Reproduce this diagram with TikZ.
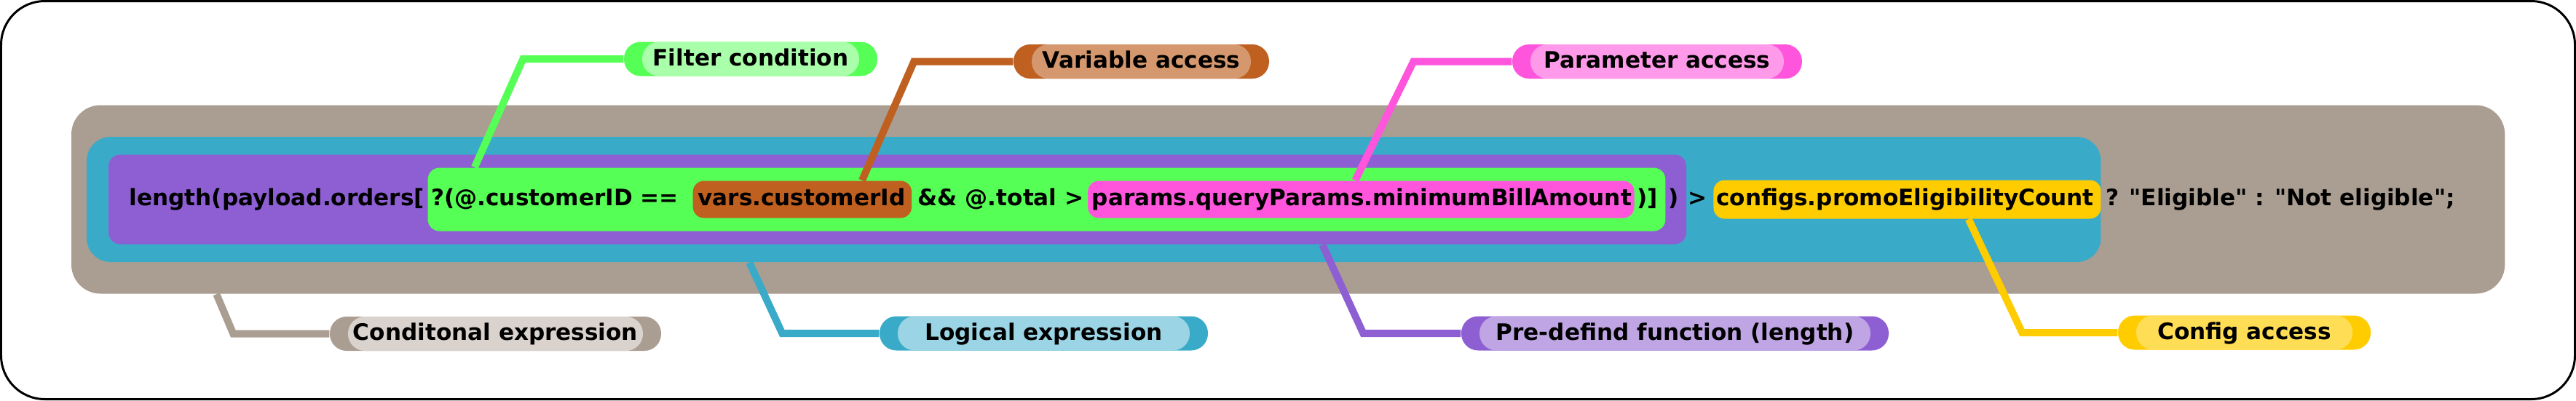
\documentclass[tikz,border=0pt]{standalone}
\usepackage{fontspec}
\setmainfont{DejaVu Sans}
\usetikzlibrary{positioning, fit, backgrounds}
\definecolor{tannode}{RGB}{170,157,145}
\definecolor{bluenode}{RGB}{57,171,200}
\definecolor{purplenode}{RGB}{141,95,211}
\definecolor{greennode}{RGB}{85,255,85}
\definecolor{brownnode}{RGB}{191,96,32}
\definecolor{pinknode}{RGB}{255,85,221}
\definecolor{yellownode}{RGB}{255,204,0}
\definecolor{lighttan}{RGB}{217,210,205}
\definecolor{lightblue}{RGB}{155,212,228}
\definecolor{lightpurple}{RGB}{192,165,229}
\definecolor{lightgreen}{RGB}{170,255,170}
\definecolor{lightbrown}{RGB}{213,152,110}
\definecolor{lightpink}{RGB}{255,153,234}
\definecolor{lightyellow}{RGB}{255,221,85}
\tikzset{
  code/.style={anchor=base west, inner sep=0pt,
    text height=0.24cm, text depth=0.08cm},
  hl/.style={inner xsep=0pt},
  pill/.style 2 args={
    rectangle, rounded corners=0.23cm, minimum height=0.47cm,
    inner xsep=0pt, inner ysep=0pt, text height=0.25cm, text depth=0.07cm,
    fill=#1,
    path picture={\fill[#2]
      ([xshift=0.25cm]path picture bounding box.south west) rectangle
      ([xshift=-0.25cm]path picture bounding box.north east);}
  },
  link/.style={line width=0.1cm, draw=#1}
}

\begin{document}
\begin{tikzpicture}[font=\bfseries\fontsize{8.85pt}{10pt}\selectfont]

  \useasboundingbox (0,0) rectangle (35.38,-5.5);
  \draw[line width=0.03cm, rounded corners=0.6cm]
    (0.015,-0.015) rectangle (35.365,-5.485);

  % expression
  \node[code] (t1) at (1.77,-2.82) {length(payload.orders[};
  \node[code] (t2) at ([xshift=0.08cm]t1.base east) {?(@.customerID ==};
  \node[code] (t3) at ([xshift=0.25cm]t2.base east) {vars.customerId};
  \node[code] (t4) at ([xshift=0.16cm]t3.base east) {\&\& @.total >};
  \node[code] (t5) at ([xshift=0.10cm]t4.base east) {params.queryParams.minimumBillAmount};
  \node[code] (t6) at ([xshift=0.06cm]t5.base east) {)]};
  \node[code] (t7) at ([xshift=0.13cm]t6.base east) {)};
  \node[code] (t8) at ([xshift=0.12cm]t7.base east) {>};
  \node[code] (t9) at ([xshift=0.11cm]t8.base east) {configs.promoEligibilityCount};
  \node[code] (t10) at ([xshift=0.15cm]t9.base east)
        {? \textquotedbl Eligible\textquotedbl\ : \textquotedbl Not eligible\textquotedbl;};

  % labels
  \node[pill={greennode}{lightgreen}, minimum width=3.48cm] (lflt)
        at (10.31,-0.81) {Filter condition};
  \node[pill={brownnode}{lightbrown}, minimum width=3.51cm] (lvar)
        at (15.675,-0.845) {Variable access};
  \node[pill={pinknode}{lightpink}, minimum width=3.98cm] (lpar)
        at (22.76,-0.845) {Parameter access};
  \node[pill={tannode}{lighttan}, minimum width=4.55cm] (lcond)
        at (6.805,-4.585) {Conditonal expression};
  \node[pill={bluenode}{lightblue}, minimum width=4.51cm] (llog)
        at (14.335,-4.58) {Logical expression};
  \node[pill={purplenode}{lightpurple}, minimum width=5.87cm] (lfun)
        at (23.005,-4.58) {Pre-defind function (length)};
  \node[pill={yellownode}{lightyellow}, minimum width=3.47cm] (lcfg)
        at (30.825,-4.57) {Config access};

  \begin{scope}[on background layer]
    \node[hl, fill=tannode, rounded corners=0.4cm, inner ysep=1.295cm,
          fit={([xshift=-0.79cm]t1.west) ([xshift=0.68cm]t10.east)}] (cond) {};
    \node[hl, fill=bluenode, rounded corners=0.33cm, inner ysep=0.86cm,
          fit={([xshift=-0.58cm]t1.west) ([xshift=0.09cm]t9.east)}] (log) {};
    \node[hl, fill=purplenode, rounded corners=0.16cm, inner ysep=0.615cm,
          fit={([xshift=-0.28cm]t1.west) ([xshift=0.1cm]t7.east)}] (fun) {};
    \node[hl, fill=greennode, rounded corners=0.16cm, inner ysep=0.435cm,
          fit={([xshift=-0.04cm]t2.west) ([xshift=0.1cm]t6.east)}] (flt) {};
    \node[hl, fill=brownnode, rounded corners=0.15cm, inner ysep=0.255cm,
          fit={([xshift=-0.06cm]t3.west) ([xshift=0.08cm]t3.east)}] (var) {};
    \node[hl, fill=pinknode, rounded corners=0.15cm, inner ysep=0.255cm,
          fit={([xshift=-0.05cm]t5.west) ([xshift=0.03cm]t5.east)}] (par) {};
    \node[hl, fill=yellownode, rounded corners=0.15cm, inner ysep=0.265cm,
          fit={([xshift=-0.03cm]t9.west) ([xshift=0.09cm]t9.east)}] (cfg) {};

    \draw[link=greennode] ([xshift=0.65cm]flt.north west)
          -- ([xshift=-1.38cm]lflt.west) -- (lflt);
    \draw[link=brownnode] ([xshift=2.33cm]var.north west)
          -- ([xshift=-1.36cm]lvar.west) -- (lvar);
    \draw[link=pinknode] ([xshift=3.68cm]par.north west)
          -- ([xshift=-1.35cm]lpar.west) -- (lpar);
    \draw[link=tannode] ([xshift=2.0cm]cond.south west)
          -- ([xshift=-1.32cm]lcond.west) -- (lcond);
    \draw[link=bluenode] ([xshift=9.11cm]log.south west)
          -- ([xshift=-1.33cm]llog.west) -- (llog);
    \draw[link=purplenode] ([xshift=16.68cm]fun.south west)
          -- ([xshift=-1.34cm]lfun.west) -- (lfun);
    \draw[link=yellownode] ([xshift=3.51cm]cfg.south west)
          -- ([xshift=-1.31cm]lcfg.west) -- (lcfg);
  \end{scope}

\end{tikzpicture}
\end{document}
